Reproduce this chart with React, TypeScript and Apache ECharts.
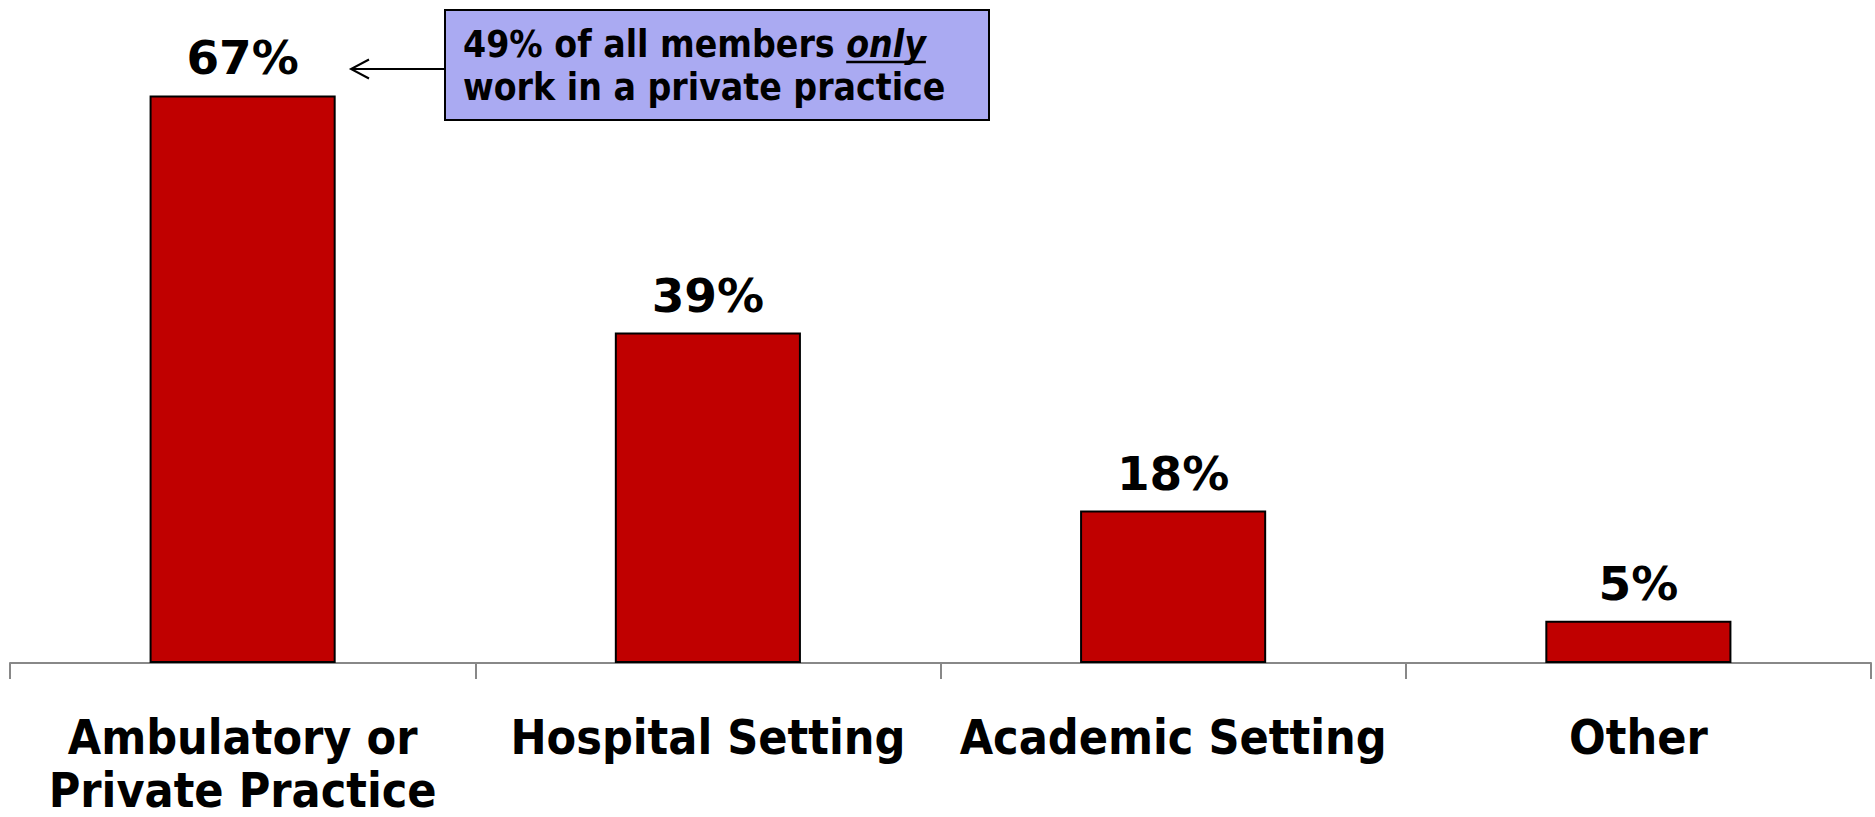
import React, { useEffect, useRef } from "react";
import * as echarts from "echarts";

const categories = ["Ambulatory or\nPrivate Practice", "Hospital Setting", "Academic Setting", "Other"];
const values = [67, 39, 18, 5];
const noteLine1 = "49% of all members ";
const noteItalic = "only";
const noteLine2 = "work in a private practice";

const FONT = "'DejaVu Sans Condensed', 'DejaVu Sans', sans-serif";
const FONT_WIDE = "'DejaVu Sans', sans-serif";

function measure(text: string, font: string): number {
  const c = document.createElement("canvas");
  const ctx = c.getContext("2d");
  if (!ctx) return text.length * 18;
  ctx.font = font;
  return ctx.measureText(text).width;
}

export default function App() {
  const ref = useRef<HTMLDivElement>(null);
  useEffect(() => {
    if (!ref.current) return;
    const chart = echarts.init(ref.current, undefined, { renderer: "svg" });
    const noteFs = 37;
    const textX = 463;
    const w1 = measure(noteLine1, `bold ${noteFs}px ${FONT}`);
    const w2 = measure(noteItalic, `italic bold ${noteFs}px ${FONT}`);
    const line1Base = 57;
    const line2Base = 100;
    const central = noteFs * 0.346;
    const catStyle = { fontFamily: FONT, fontWeight: "bold", fontSize: 48, color: "#000" };
    chart.setOption({
      animation: false,
      grid: { left: 10, right: 4, top: 70, bottom: 154, containLabel: false, outerBoundsMode: "none" },
      xAxis: {
        type: "category",
        data: categories,
        boundaryGap: true,
        axisLine: { show: true, lineStyle: { color: "#888888", width: 2 } },
        axisTick: { show: true, interval: 0, length: 16, lineStyle: { color: "#888888", width: 2 } },
        axisLabel: {
          interval: 0,
          margin: 44,
          align: "center",
          formatter: (v: string) => {
            const parts = v.split("\n");
            return parts.map((p, i) => (i === 0 ? `{a|${p}}` : `{b|${p}}`)).join("\n");
          },
          rich: {
            a: { ...catStyle, lineHeight: 60 },
            b: { ...catStyle, lineHeight: 46 },
          },
        },
      },
      yAxis: {
        type: "value",
        min: 0,
        max: 70,
        show: false,
        splitLine: { show: false },
      },
      series: [
        {
          type: "bar",
          data: values,
          barWidth: "40%",
          itemStyle: { color: "#C00000", borderColor: "#000", borderWidth: 2 },
          label: {
            show: true,
            position: "top",
            distance: 14,
            formatter: "{c}%",
            color: "#000",
            fontFamily: FONT_WIDE,
            fontWeight: "bold",
            fontSize: 47,
          },
        },
      ],
      graphic: [
        {
          type: "line",
          shape: { x1: 444, y1: 69, x2: 352, y2: 69 },
          style: { stroke: "#000", lineWidth: 2 },
        },
        {
          type: "polyline",
          shape: { points: [[369, 59.5], [351, 69], [369, 78.5]] },
          style: { stroke: "#000", lineWidth: 2, fill: null },
        },
        {
          type: "rect",
          shape: { x: 445, y: 10, width: 544, height: 110 },
          style: { fill: "#AAAAF2", stroke: "#000", lineWidth: 2 },
        },
        {
          type: "text",
          x: textX,
          y: line1Base - central,
          style: {
            text: noteLine1,
            fontFamily: FONT,
            fontWeight: "bold",
            fontSize: noteFs,
            fill: "#000",
            verticalAlign: "middle",
          },
        },
        {
          type: "text",
          x: textX + w1,
          y: line1Base - central,
          style: {
            text: noteItalic,
            fontFamily: FONT,
            fontWeight: "bold",
            fontStyle: "italic",
            fontSize: noteFs,
            fill: "#000",
            verticalAlign: "middle",
          },
        },
        {
          type: "line",
          shape: { x1: textX + w1, y1: line1Base + 5, x2: textX + w1 + w2, y2: line1Base + 5 },
          style: { stroke: "#000", lineWidth: 2.5 },
        },
        {
          type: "text",
          x: textX,
          y: line2Base - central,
          style: {
            text: noteLine2,
            fontFamily: FONT,
            fontWeight: "bold",
            fontSize: noteFs,
            fill: "#000",
            verticalAlign: "middle",
          },
        },
      ],
    });
    return () => chart.dispose();
  }, []);
  return (
    <div
      ref={ref}
      style={{ position: "absolute", left: 0, top: 0, width: 1875, height: 817, background: "#fff" }}
    />
  );
}
